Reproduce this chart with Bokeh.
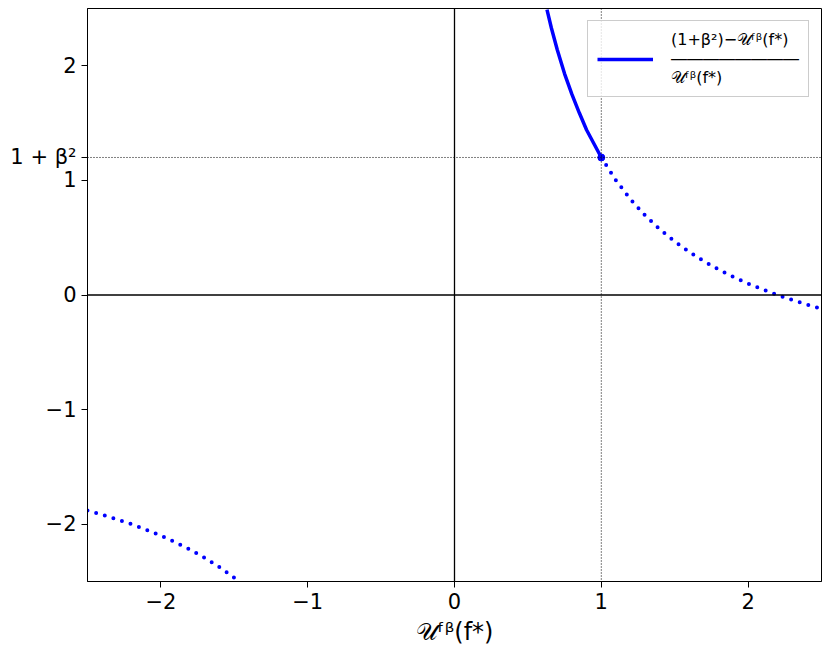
from bokeh.plotting import figure
from bokeh.models import Span, FixedTicker, Legend, LegendItem, Range1d
from bokeh.embed import file_html
from bokeh.resources import INLINE

# values
solid_x = [0.63, 0.66, 0.7, 0.75, 0.8, 0.85, 0.9, 0.95, 1.0]
solid_y = [2.49, 2.33, 2.14, 1.93, 1.75, 1.59, 1.44, 1.32, 1.2]
dot_x = [1.0, 1.1, 1.2, 1.3, 1.4, 1.5, 1.6, 1.7, 1.8, 1.9, 2.0, 2.1, 2.2, 2.3, 2.4, 2.5]
dot_y = [1.2, 1.0, 0.833, 0.692, 0.571, 0.467, 0.375, 0.294, 0.222, 0.158, 0.1, 0.048, 0.0, -0.043, -0.083, -0.12]
neg_x = [-2.5, -2.4, -2.3, -2.2, -2.1, -2.0, -1.9, -1.8, -1.7, -1.6, -1.5, -1.47]
neg_y = [-1.88, -1.917, -1.957, -2.0, -2.048, -2.1, -2.158, -2.222, -2.294, -2.375, -2.467, -2.497]
marker_x = [1.0]
marker_y = [1.2]
x_ticks = [-2, -1, 0, 1, 2]
y_ticks = [-2, -1, 0, 1, 1.2, 2]
y_tick_labels = {-2: "−2", -1: "−1", 0: "0", 1: "1", 1.2: "1 + β²", 2: "2"}
x_tick_labels = {-2: "−2", -1: "−1", 0: "0", 1: "1", 2: "2"}
ref_x = 1.0
ref_y = 1.2
legend_label = "(1+β²)−𝒰ᶠᵝ(f*)\n――――――――\n𝒰ᶠᵝ(f*)"
x_label = "𝒰ᶠᵝ(f*)"

BLUE = "#0000ff"
FONT = "DejaVu Sans"

p = figure(width=823, height=648, output_backend="svg", toolbar_location=None,
           x_range=Range1d(-2.5, 2.5), y_range=Range1d(-2.5, 2.5),
           min_border_left=87, min_border_right=2, min_border_top=8, min_border_bottom=10)
p.grid.visible = False
p.outline_line_color = "black"
p.outline_line_width = 1
p.background_fill_color = "white"

p.add_layout(Span(location=0, dimension="width", line_color="black", line_width=1.3))
p.add_layout(Span(location=0, dimension="height", line_color="black", line_width=1.3))
p.add_layout(Span(location=ref_y, dimension="width", line_color="black", line_width=1, line_dash="1 2"))
p.add_layout(Span(location=ref_x, dimension="height", line_color="black", line_width=1, line_dash="1 2"))

r_solid = p.line(solid_x, solid_y, line_color=BLUE, line_width=3.5)
p.line(dot_x, dot_y, line_color=BLUE, line_width=4, line_dash="0 9", line_cap="round")
p.line(neg_x, neg_y, line_color=BLUE, line_width=4, line_dash="0 9", line_cap="round")
p.scatter(marker_x, marker_y, size=7, color=BLUE)

for ax in (p.xaxis[0], p.yaxis[0]):
    ax.major_label_text_font = FONT
    ax.major_label_text_font_size = "21px"
    ax.major_label_text_color = "black"
    ax.axis_line_color = "black"
    ax.major_tick_line_color = "black"
    ax.major_tick_out = 6
    ax.major_tick_in = 0
    ax.minor_tick_line_color = None

p.xaxis.ticker = FixedTicker(ticks=x_ticks)
p.yaxis.ticker = FixedTicker(ticks=y_ticks)
p.xaxis.major_label_overrides = x_tick_labels
p.yaxis.major_label_overrides = y_tick_labels
p.xaxis.axis_label = x_label
p.xaxis.axis_label_text_font = FONT
p.xaxis.axis_label_text_font_size = "24px"
p.xaxis.axis_label_text_font_style = "normal"
p.xaxis.axis_label_text_color = "black"
p.xaxis.axis_label_standoff = 6

legend = Legend(items=[LegendItem(label=legend_label, renderers=[r_solid])],
                location="top_right", label_text_font=FONT, label_text_font_size="16px",
                label_text_color="black", label_text_line_height=1.0,
                border_line_color="#cccccc", border_line_alpha=1, background_fill_alpha=0.8,
                glyph_width=56, label_standoff=18, padding=9, margin=12)
p.add_layout(legend)

open("out.html", "w").write(file_html(p, INLINE))
